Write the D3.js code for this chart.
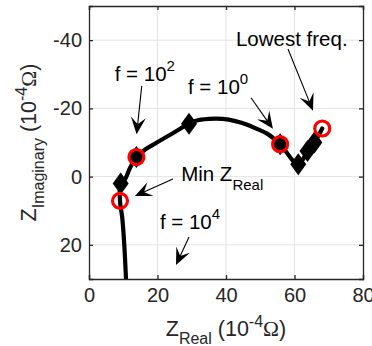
<!DOCTYPE html>
<html><head><meta charset="utf-8">
<script src="https://cdn.jsdelivr.net/npm/d3@7"></script>
<style>
html,body{margin:0;padding:0;background:#fff;}
text{font-family:"Liberation Sans",Arial,sans-serif;fill:#262626;}
</style></head>
<body><svg id="c" width="372" height="346"></svg>
<script>
// ---- data ----
const curveRe = [10.8, 10.3, 9.7, 9.05, 9.25, 10.5, 12.0, 13.85, 16.5, 19.8, 24.6, 29.2, 31, 35, 39, 43, 46, 49, 52, 55.8, 61.1, 63.8, 65.8, 68.1];
const curveIm = [30, 20, 12, 7.1, 2.0, 0.8, -2.6, -5.75, -8.0, -10.0, -12.8, -15.5, -16.3, -16.9, -16.9, -16.2, -15.3, -14.0, -12.6, -9.5, -3.6, -7.5, -10.0, -14.1];
const diaRe = [9.25, 13.85, 29.2, 55.8, 61.1, 63.8, 65.8];
const diaIm = [2.0, -5.75, -15.5, -9.5, -3.6, -7.5, -10.0];
const ringRe = [9.05, 13.85, 55.8, 68.1];
const ringIm = [7.1, -5.75, -9.5, -14.1];
const xTicks = [0, 20, 40, 60, 80];
const yTicks = [-40, -20, 0, 20];
// annotations: text position and arrow tail/tip in data units
const annText = ["f = 10|2", "f = 10|0", "Lowest freq.", "Min Z_Real", "f = 10|4"];
const annTextRe = [7.5, 28.9, 42.9, 26.9, 20.7];
const annTextIm = [-28.1, -24.3, -38.3, 1.3, 15.3];
const arrTailRe = [15.4, 47.3, 58.1, 24.5, 29.2];
const arrTailIm = [-26.6, -23.1, -37.4, 0.7, 17.7];
const arrTipRe = [13.9, 53.7, 65.4, 13.4, 25.4];
const arrTipIm = [-12.4, -14.0, -19.3, 5.7, 25.9];

// ---- layout ----
const L = 89, T = 6, W = 274, H = 273;
const svg = d3.select("#c");
const x = d3.scaleLinear().domain([0, 80]).range([L, L + W]);
const y = d3.scaleLinear().domain([-50, 30]).range([T, T + H]);
const g = svg.append("g");

// grid
g.selectAll(".gx").data(xTicks.slice(1, -1)).join("line")
  .attr("x1", d => x(d)).attr("x2", d => x(d)).attr("y1", T).attr("y2", T + H)
  .attr("stroke", "#e3e3e3").attr("stroke-width", 1);
g.selectAll(".gy").data(yTicks).join("line")
  .attr("y1", d => y(d)).attr("y2", d => y(d)).attr("x1", L).attr("x2", L + W)
  .attr("stroke", "#e3e3e3").attr("stroke-width", 1);

// axes
const fs = 20;
const xa = svg.append("g").attr("transform", `translate(0,${T + H})`)
  .call(d3.axisBottom(x).tickValues(xTicks).tickSize(-4).tickPadding(9));
const xa2 = svg.append("g").attr("transform", `translate(0,${T})`)
  .call(d3.axisTop(x).tickValues(xTicks).tickSize(-4).tickFormat(""));
const ya = svg.append("g").attr("transform", `translate(${L},0)`)
  .call(d3.axisLeft(y).tickValues(yTicks).tickSize(-4).tickPadding(7).tickFormat(d => d < 0 ? "-" + Math.abs(d) : d));
const ya2 = svg.append("g").attr("transform", `translate(${L + W},0)`)
  .call(d3.axisRight(y).tickValues(yTicks).tickSize(-4).tickFormat(""));
[xa, xa2, ya, ya2].forEach(a => {
  a.select(".domain").attr("stroke", "#262626").attr("stroke-width", 1.3);
  a.selectAll(".tick line").attr("stroke", "#262626").attr("stroke-width", 1.3);
  a.selectAll("text").attr("font-size", fs).attr("font-family", "Liberation Sans, Arial, sans-serif").attr("fill", "#262626");
});

// curve
const pts = curveRe.map((r, i) => [r, curveIm[i]]);
const line = d3.line().x(d => x(d[0])).y(d => y(d[1])).curve(d3.curveCatmullRom.alpha(0.5));
const clipId = "clipP";
svg.append("clipPath").attr("id", clipId).append("rect").attr("x", L).attr("y", T).attr("width", W).attr("height", H);
const pg = svg.append("g").attr("clip-path", `url(#${clipId})`);
pg.append("path").attr("d", line(pts)).attr("fill", "none").attr("stroke", "#000")
  .attr("stroke-width", 4.2).attr("stroke-linejoin", "round").attr("stroke-linecap", "round");

// diamonds
const hw = 8, hh = 11;
pg.selectAll(".dia").data(diaRe.map((r, i) => [r, diaIm[i]])).join("path")
  .attr("d", d => { const cx = x(d[0]), cy = y(d[1]);
    return `M${cx},${cy - hh}L${cx + hw},${cy}L${cx},${cy + hh}L${cx - hw},${cy}Z`; })
  .attr("fill", "#000");
// rings
pg.selectAll(".ring").data(ringRe.map((r, i) => [r, ringIm[i]])).join("circle")
  .attr("cx", d => x(d[0])).attr("cy", d => y(d[1])).attr("r", 7.5)
  .attr("fill", "none").attr("stroke", "#ff0000").attr("stroke-width", 3.2);

// annotations
const ag = svg.append("g");
annText.forEach((t, i) => {
  const tx = ag.append("text").attr("x", x(annTextRe[i])).attr("y", y(annTextIm[i]))
    .attr("font-size", 20.5).style("fill", "#000");
  if (t.includes("|")) {
    const [a, b] = t.split("|");
    tx.append("tspan").text(a);
    tx.append("tspan").text(b).attr("font-size", 15).attr("dy", -10);
  } else if (t.includes("_")) {
    const [a, b] = t.split("_");
    tx.append("tspan").text(a);
    tx.append("tspan").text(b).attr("font-size", 15).attr("dy", 9);
  } else tx.text(t);
});
arrTailRe.forEach((r, i) => {
  const x1 = x(r), y1 = y(arrTailIm[i]), x2 = x(arrTipRe[i]), y2 = y(arrTipIm[i]);
  const ang = Math.atan2(y2 - y1, x2 - x1) * 180 / Math.PI;
  const len = Math.hypot(x2 - x1, y2 - y1);
  const a = ag.append("g").attr("transform", `translate(${x2},${y2}) rotate(${ang})`);
  a.append("line").attr("x1", -len).attr("y1", 0).attr("x2", -8).attr("y2", 0)
    .attr("stroke", "#000").attr("stroke-width", 1.1);
  a.append("path").attr("d", "M0,0L-17,-7.5L-10,0L-17,7.5Z").attr("fill", "#000");
});

// axis labels
const xl = svg.append("text").attr("x", x(40)).attr("y", 336).attr("text-anchor", "middle")
  .attr("font-size", 21.5);
xl.append("tspan").text("Z");
xl.append("tspan").text("Real").attr("font-size", 16).attr("dy", 8);
xl.append("tspan").text(" (10").attr("font-size", 21.5).attr("dy", -8);
xl.append("tspan").text("-4").attr("font-size", 16).attr("dy", -9);
xl.append("tspan").text("Ω").attr("font-size", 21.5).attr("dy", 9).style("font-family", "Liberation Serif, serif");
xl.append("tspan").text(")").attr("font-size", 21.5);

const yl = svg.append("text").attr("transform", `translate(36,${y(-10)}) rotate(-90)`)
  .attr("text-anchor", "middle").attr("font-size", 21.5);
yl.append("tspan").text("Z");
yl.append("tspan").text("Imaginary").attr("font-size", 16).attr("dy", 8);
yl.append("tspan").text(" (10").attr("font-size", 21.5).attr("dy", -8);
yl.append("tspan").text("-4").attr("font-size", 16).attr("dy", -9);
yl.append("tspan").text("Ω").attr("font-size", 21.5).attr("dy", 9).style("font-family", "Liberation Serif, serif");
yl.append("tspan").text(")").attr("font-size", 21.5);
</script></body></html>
